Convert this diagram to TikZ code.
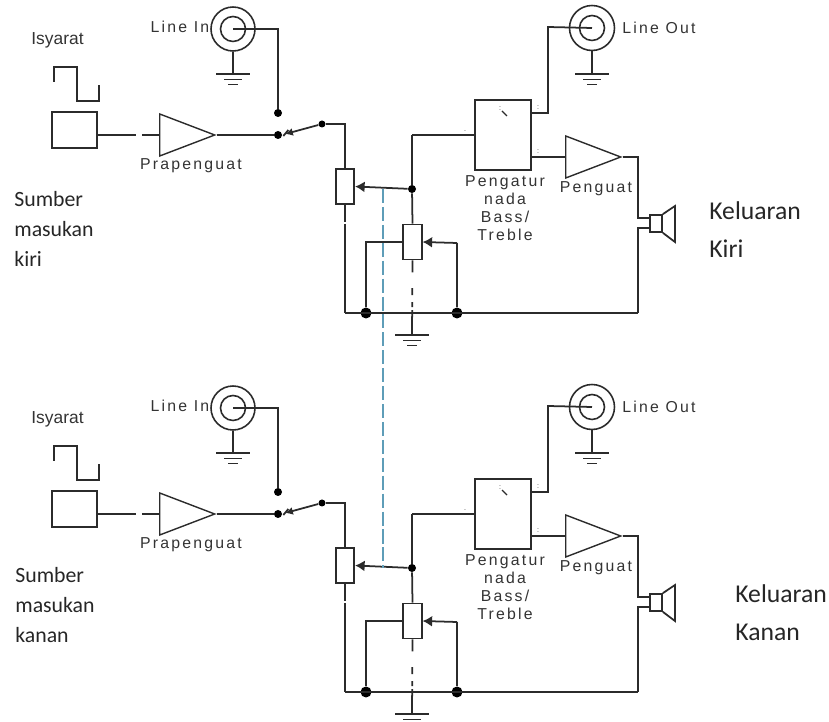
\documentclass[tikz,border=0pt]{standalone}
\usepackage{fontspec}
\usepackage{tikz}
\usetikzlibrary{arrows.meta,shapes.geometric}
\setmainfont{Carlito}
\newfontfamily\schfont[LetterSpace=14]{Liberation Sans}
\newfontfamily\plainfont{Liberation Sans}
\definecolor{wire}{HTML}{2B2B2B}
\definecolor{labelgray}{HTML}{333333}
\definecolor{linkblue}{HTML}{5E9DB8}

\begin{document}
\begin{tikzpicture}[
      x=0.02cm,y=-0.02cm,
      wr/.style={line width=1pt,color=wire},
      box/.style={draw=wire,line width=1pt,fill=white,inner sep=0pt},
      pot/.style={box,minimum width=0.37cm,minimum height=0.7cm},
      amp/.style={draw=wire,line width=0.8pt,isosceles triangle,isosceles triangle stretches,shape border rotate=0,inner sep=0pt,minimum width=0.84cm,minimum height=1.1cm,anchor=lower side},
      dot/.style={circle,fill=black,inner sep=0pt,minimum size=0.22cm},
      sdot/.style={circle,fill=black,inner sep=0pt,minimum size=0.16cm},
      jack/.style={circle,draw=wire,line width=0.9pt,inner sep=0pt,minimum size=#1},
      wiper/.style={wr,-{Latex[length=1.9mm,width=2.2mm]}},
      sch/.style={font=\schfont\fontsize{9}{10.2}\selectfont,text=labelgray,align=center,inner sep=0pt},
      isy/.style={font=\plainfont\fontsize{9.9}{11}\selectfont,text=labelgray,inner sep=0pt},
      tinylab/.style={font=\plainfont\fontsize{4}{4}\selectfont,text=labelgray,inner sep=0pt},
      sidelab/.style={font=\fontsize{12.4}{17.2}\selectfont,align=left,anchor=west,inner sep=0pt,text=black!85},
      outlab/.style={font=\fontsize{14.6}{21.6}\selectfont,align=left,anchor=west,inner sep=0pt,text=black!85},
      ground/.pic={
        \draw[wr] (-17,0)--(17,0);
        \draw[wr] (-9,5.5)--(9,5.5);
        \draw[wr] (-5,10.5)--(5,10.5);
      }
    ]
      \useasboundingbox (0,0) rectangle (829,722);
      \clip (0,0) rectangle (829,722);
      \foreach \ch/\dy in {kiri/0,kanan/379}{
      \begin{scope}[shift={(0,\dy)}]
      \node[box,minimum width=0.9cm,minimum height=0.72cm] (src\ch) at (74.5,130) {};
      \node[amp] (pre\ch) at (159,135) {};
      \node[pot] (vol\ch) at (345,186.5) {};
      \node[pot] (bal\ch) at (412.5,242) {};
      \node[box,minimum width=1.12cm,minimum height=1.4cm] (tone\ch) at (503,135) {};
      \node[amp] (pwr\ch) at (565,157) {};
      \node[box,minimum width=0.24cm,minimum height=0.34cm] (spk\ch) at (656,223.5) {};
      \node[jack=0.88cm] (jin\ch) at (233,29) {};
      \node[jack=0.5cm] (jinb\ch) at (233,29) {};
      \node[jack=0.9cm] (jout\ch) at (592,28) {};
      \node[jack=0.5cm] (joutb\ch) at (592,28) {};
      \node[sdot] (sel\ch) at (278,113) {};
      \node[sdot,minimum size=0.16cm] (com\ch) at (278,135) {};
      \node[sdot,minimum size=0.14cm] (arm\ch) at (322,124) {};
      \node[sdot] (tap\ch) at (412,189) {};
      \node[dot] (busa\ch) at (366,313) {};
      \node[dot] (busb\ch) at (457,313) {};
      \coordinate (srcout\ch) at (97,135);
      \coordinate (tapb\ch) at (412,135);
      \coordinate (bus\ch) at (345,313);
      \coordinate (busd\ch) at (638,313);
      \coordinate (gmain\ch) at (412,335);
      \coordinate (gin\ch) at (233,74);
      \coordinate (gout\ch) at (592,74);
      \coordinate (toa\ch) at (531,113);
      \coordinate (tob\ch) at (531,157);
      \coordinate (spa\ch) at (650,218);
      \coordinate (spb\ch) at (650,228);
      \coordinate (corner\ch) at (638,157);
      \coordinate (link\ch) at (383,189);
      \coordinate (balr\ch) at (457,243);
      \coordinate (ball\ch) at (403.5,242);
      \draw[wr,dash pattern=on 22.1pt off 3.4pt on 9.6pt] (srcout\ch)--(pre\ch.lower side);
      \draw[wr] (pre\ch.apex)--(com\ch);
      \draw[wr] (jinb\ch.center)-|(sel\ch);
      \draw[wr,{Latex[length=1.5mm,width=1.6mm]}-] (com\ch.east)++(3,-1)--(arm\ch);
      \draw[wr] (com\ch.east)++(1,1)--++(5,-6);
      \draw[wr] (arm\ch)-|(vol\ch.north);
      \draw[wr,dash pattern=on 9.6pt off 1.2pt on 60pt] (vol\ch.south)--(bus\ch);
      \draw[wr] (bus\ch)--(busd\ch);
      \draw[wiper] (tap\ch)--(vol\ch.east);
      \draw[wr] (tapb\ch)--(tone\ch.west);
      \draw[wr] (tapb\ch)--(tap\ch);
      \draw[wr] (tap\ch)--(bal\ch.north);
      \draw[wr,dash pattern=on 6.8pt off 9pt on 4pt off 4pt on 2.8pt off 1.7pt on 16pt] (bal\ch.south)--(gmain\ch);
      \draw[wr] (ball\ch)-|(busa\ch);
      \draw[wr] (balr\ch)--(busb\ch);
      \draw[wiper] (balr\ch)--(bal\ch.east);
      \draw[wr] (toa\ch)-|(548,27)--(joutb\ch.center);
      \draw[wr] (tob\ch)--(pwr\ch.lower side);
      \draw[wr] (pwr\ch.apex)--(corner\ch)|-(spa\ch);
      \draw[wr] (busd\ch)|-(spb\ch);
      \draw[wr] (spk\ch.north east)--(675,206)--(675,242)--(spk\ch.south east);
      \draw[wr] (jin\ch.south)--(gin\ch);
      \draw[wr] (jout\ch.south)--(gout\ch);
      \pic at (gin\ch) {ground};
      \pic at (gout\ch) {ground};
      \pic at (gmain\ch) {ground};
      \draw[wr] (54,82)--(54,67)--(77,67)--(77,101)--(99,101)--(99,85);
      \draw[wr,line width=0.7pt] (502,111)--(507,116);
      \node[isy] (sig\ch) at (57.5,40) {Isyarat};
      \node[sch] (lin\ch) at (180,27) {Line In};
      \node[sch] (lout\ch) at (659,28) {Line Out};
      \node[sch] (prel\ch) at (191,166) {Prapenguat};
      \node[sch] (pwrl\ch) at (596,189) {Penguat};
      \node[sch] (tonel\ch) at (505,208) {Pengatur\\nada\\Bass/\\Treble};
      \node[tinylab] (ta\ch) at (538,108) {:};
      \node[tinylab] (tb\ch) at (538,152) {:};
      \node[tinylab] (tc\ch) at (465,131) {.};
      \node[tinylab] (td\ch) at (500,109) {:};
      \end{scope}
      }
      \draw[line width=0.6pt,color=linkblue,dash pattern=on 8pt off 2.2pt] (linkkiri)--(linkkanan);
      \node[sidelab] (sumki) at (14,229) {Sumber\\masukan\\kiri};
      \node[sidelab] (sumka) at (15,605) {Sumber\\masukan\\kanan};
      \node[outlab] (outki) at (709,230) {Keluaran\\Kiri};
      \node[outlab] (outka) at (735,613) {Keluaran\\Kanan};
    \end{tikzpicture}
\end{document}
